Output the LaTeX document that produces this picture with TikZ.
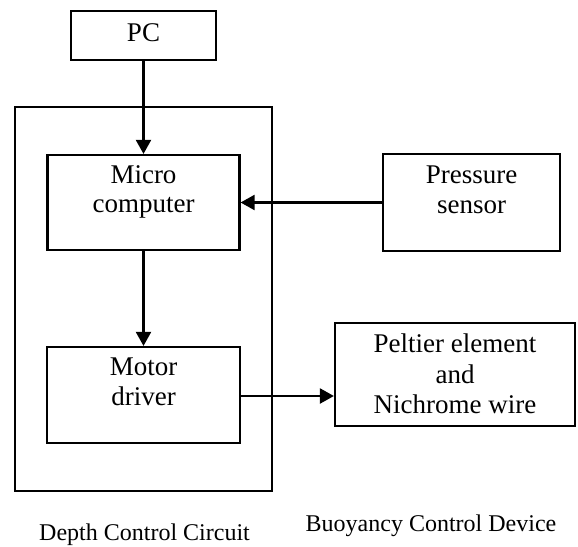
\documentclass[tikz,border=0pt]{standalone}
\usepackage{fontspec}
\setmainfont{Liberation Serif}
\usetikzlibrary{arrows.meta}
\begin{document}
\begin{tikzpicture}[x=0.5pt,y=-0.5pt,
  box/.style={draw=black, line width=1.1pt, rectangle, inner sep=0pt},
  txt/.style={inner sep=0pt, anchor=base, font=\fontsize{13.5}{15}\selectfont},
  lbl/.style={inner sep=0pt, anchor=base, font=\fontsize{12}{14}\selectfont},
  conn/.style={line width=1.1pt, -{Triangle[length=7pt,width=7.5pt]}}]
\useasboundingbox (0,0) rectangle (578,546);
% boxes
\node[box, minimum width=72.5pt, minimum height=24.5pt] (pc) at (143.5,35.5) {};
\node[box, minimum width=128.5pt, minimum height=192pt] (outer) at (143.5,299) {};
\node[box, minimum width=96pt, minimum height=47.5pt] (micro) at (143.5,202.5) {};
\node[box, minimum width=96.5pt, minimum height=48pt] (motor) at (143.5,395) {};
\node[box, minimum width=88.5pt, minimum height=48.5pt] (press) at (471.5,202.5) {};
\node[box, minimum width=120pt, minimum height=51.5pt] (pelt) at (455,374.5) {};
% texts
\node[txt] (pcT) at (143.5,41) {PC};
\node[txt] (microT1) at (143.5,183) {Micro};
\node[txt] (microT2) at (143.5,212) {computer};
\node[txt] (motorT1) at (143.5,375) {Motor};
\node[txt] (motorT2) at (143.5,405) {driver};
\node[txt] (pressT1) at (471.5,183) {Pressure};
\node[txt] (pressT2) at (471.5,213) {sensor};
\node[txt] (peltT1) at (455,352) {Peltier element};
\node[txt] (peltT2) at (455,383) {and};
\node[txt] (peltT3) at (455,413) {Nichrome wire};
\node[lbl] (depth) at (144.5,540) {Depth Control Circuit};
\node[lbl] (buoy) at (431,531) {Buoyancy Control Device};
% connectors
\coordinate (mdOut) at (240,396);
\draw[conn] (pc.south) -- (micro.north);
\draw[conn] (press.west) -- (micro.east);
\draw[conn] (micro.south) -- (motor.north);
\draw[conn] (mdOut) -- (mdOut -| pelt.west);
\end{tikzpicture}
\end{document}
